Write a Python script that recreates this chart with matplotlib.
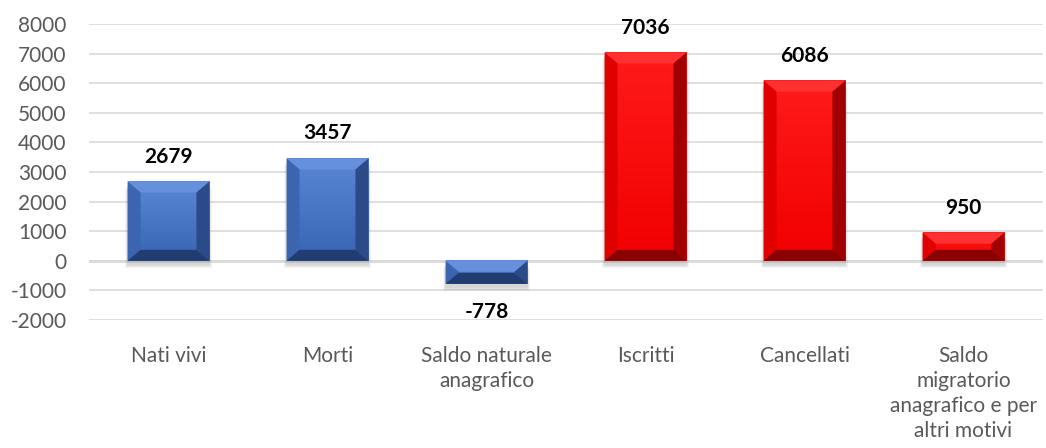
import matplotlib.pyplot as plt
from matplotlib.patches import Polygon, Rectangle
from matplotlib.colors import LinearSegmentedColormap
import numpy as np

categories = ['Nati vivi', 'Morti', 'Saldo naturale\nanagrafico', 'Iscritti',
              'Cancellati', 'Saldo\nmigratorio\nanagrafico e per\naltri motivi']
values = [2679, 3457, -778, 7036, 6086, 950]
groups = ['blue', 'blue', 'blue', 'red', 'red', 'red']
yticks = list(range(-2000, 8001, 1000))

# face top, face bottom, top bevel, left bevel, right bevel, bottom bevel
palette = {
    'blue': ['#5a86d6', '#3864b4', '#6690dc', '#3c64b0', '#2b4b88', '#203c70'],
    'red': ['#ff1a1a', '#f20000', '#ff3030', '#e00000', '#a00000', '#8a0000'],
}

plt.rcParams['font.family'] = ['Lato', 'DejaVu Sans']

fig = plt.figure(figsize=(10.46, 4.48), dpi=100)
ax = fig.add_axes([89 / 1046, 1 - 320 / 448, 954 / 1046, 296 / 448])

x = np.arange(len(categories))
bars = ax.bar(x, values, width=0.515, color=[palette[g][1] for g in groups],
              zorder=3)

ax.set_yticks(yticks)
ax.set_yticklabels([str(t) for t in yticks])
ax.set_xticks(x)
ax.set_xticklabels(categories, linespacing=1.3)
ax.tick_params(axis='both', length=0, labelsize=15, labelcolor='#595959')
ax.tick_params(axis='y', pad=16)
ax.tick_params(axis='x', pad=19)
for s in ax.spines.values():
    s.set_visible(False)
ax.yaxis.grid(True, color='#d9d9d9', lw=1.2, zorder=0)
ax.axhline(0, color='#d9d9d9', lw=2, zorder=1)

# pixel size in data units, for the bevel geometry
px_x = len(categories) / 954
px_y = 10000 / 296

for b, g, v in zip(bars, groups, values):
    x0, w = b.get_x(), b.get_width()
    y0 = min(b.get_y(), b.get_y() + b.get_height())
    h = abs(b.get_height())
    x1, y1 = x0 + w, y0 + h
    bx = 13 * px_x
    by = min(11 * px_y, h / 2)
    cols = palette[g]
    # soft shadow under the bar
    for k, a in zip(range(6, 0, -1), [0.03, 0.04, 0.05, 0.06, 0.07, 0.08]):
        ax.add_patch(Rectangle((x0 - k * px_x * 0.5, y0 - (4 + k * 0.6) * px_y),
                               w + k * px_x, h, color='#7f7f7f', alpha=a,
                               lw=0, zorder=2))
    # face gradient
    cmap = LinearSegmentedColormap.from_list(g, [cols[1], cols[0]])
    ax.imshow(np.linspace(0, 1, 64).reshape(-1, 1), cmap=cmap, aspect='auto',
              origin='lower', extent=(x0, x1, y0, y1), zorder=3.5)
    top = [(x0, y1), (x1, y1), (x1 - bx, y1 - by), (x0 + bx, y1 - by)]
    bot = [(x0, y0), (x1, y0), (x1 - bx, y0 + by), (x0 + bx, y0 + by)]
    left = [(x0, y0), (x0 + bx, y0 + by), (x0 + bx, y1 - by), (x0, y1)]
    right = [(x1, y0), (x1 - bx, y0 + by), (x1 - bx, y1 - by), (x1, y1)]
    for poly, c in [(top, cols[2]), (left, cols[3]), (right, cols[4]), (bot, cols[5])]:
        ax.add_patch(Polygon(poly, closed=True, color=c, lw=0, zorder=4))

    off = 18 if v >= 0 else -20
    ax.annotate(str(v), (b.get_x() + w / 2, v), xytext=(0, off),
                textcoords='offset points', ha='center', va='center',
                fontsize=15, fontweight='bold', color='black')

ax.set_xlim(-0.5, len(categories) - 0.5)
ax.set_ylim(-2000, 8000)

fig.savefig('out.png', dpi=100)
